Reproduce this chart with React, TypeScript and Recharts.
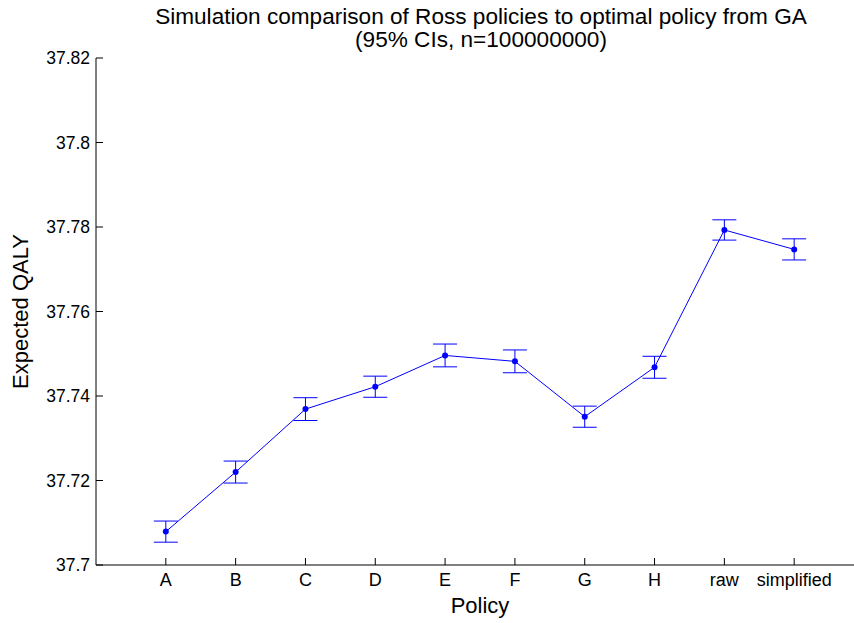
import React from 'react';
import { LineChart, Line, XAxis, YAxis, ErrorBar } from 'recharts';

const policies = ['A', 'B', 'C', 'D', 'E', 'F', 'G', 'H', 'raw', 'simplified'];
const positions = [1, 2, 3, 4, 5, 6, 7, 8, 9, 10];
const expectedQaly = [37.7079, 37.722, 37.7369, 37.7422, 37.7496, 37.7482, 37.7351, 37.7468, 37.7793, 37.7747];
const ciHalfWidth = [0.0025, 0.0026, 0.0027, 0.0025, 0.0027, 0.0027, 0.0025, 0.0026, 0.0024, 0.0025];
const yTicks = [37.7, 37.72, 37.74, 37.76, 37.78, 37.8, 37.82];
const yTickLabels = ['37.7', '37.72', '37.74', '37.76', '37.78', '37.8', '37.82'];
const titleLines = ['Simulation comparison of Ross policies to optimal policy from GA', '(95% CIs, n=100000000)'];
const xLabel = 'Policy';
const yLabel = 'Expected QALY';

const data = positions.map((x, i) => ({ x, y: expectedQaly[i], err: ciHalfWidth[i] }));

const FONT = '"Liberation Sans", Arial, Helvetica, sans-serif';
const BLUE = '#0000ff';
const TICK = 7;

const BottomTick = (props: any) => {
  const { x, y, payload } = props;
  const idx = positions.indexOf(payload.value);
  return (
    <g>
      <line x1={x} x2={x} y1={y} y2={y - TICK} stroke="#000" strokeWidth={1} />
      <text x={x} y={y + 21} textAnchor="middle" fontSize={18} fontFamily={FONT} fill="#000">
        {idx >= 0 ? policies[idx] : ''}
      </text>
    </g>
  );
};

const TopTick = (props: any) => {
  const { x, y } = props;
  return <line x1={x} x2={x} y1={y} y2={y + TICK} stroke="#000" strokeWidth={1} />;
};

const LeftTick = (props: any) => {
  const { x, y, payload } = props;
  const idx = yTicks.findIndex((t) => Math.abs(t - payload.value) < 1e-9);
  return (
    <g>
      <line x1={x} x2={x + TICK} y1={y} y2={y} stroke="#000" strokeWidth={1} />
      <text x={x - 6} y={y + 6} textAnchor="end" fontSize={17.5} fontFamily={FONT} fill="#000">
        {idx >= 0 ? yTickLabels[idx] : ''}
      </text>
    </g>
  );
};

const RightTick = (props: any) => {
  const { x, y } = props;
  return <line x1={x} x2={x - TICK} y1={y} y2={y} stroke="#000" strokeWidth={1} />;
};

export default function App() {
  return (
    <div style={{ position: 'absolute', left: 0, top: 0, width: 854, height: 623, overflow: 'hidden', background: '#fff' }}>
      <LineChart
        width={880}
        height={623}
        data={data}
        margin={{ top: 58, right: 16, bottom: 0, left: 0 }}
      >
        <XAxis
          xAxisId="bottom"
          dataKey="x"
          type="number"
          domain={[0, 11]}
          ticks={positions}
          allowDataOverflow
          height={58}
          tickLine={false}
          tickSize={0}
          tickMargin={0}
          tick={<BottomTick />}
          axisLine={{ stroke: '#000', strokeWidth: 1 }}
          interval={0}
        />
        <XAxis
          xAxisId="top"
          orientation="top"
          dataKey="x"
          type="number"
          domain={[0, 11]}
          ticks={positions}
          allowDataOverflow
          height={0}
          tickLine={false}
          tickSize={0}
          tickMargin={0}
          tick={<TopTick />}
          axisLine={{ stroke: '#000', strokeWidth: 1 }}
          interval={0}
        />
        <YAxis
          yAxisId="left"
          type="number"
          domain={[37.7, 37.82]}
          ticks={yTicks}
          allowDataOverflow
          width={96}
          tickLine={false}
          tickSize={0}
          tickMargin={0}
          tick={<LeftTick />}
          axisLine={{ stroke: '#000', strokeWidth: 1 }}
          interval={0}
        />
        <YAxis
          yAxisId="right"
          orientation="right"
          type="number"
          domain={[37.7, 37.82]}
          ticks={yTicks}
          allowDataOverflow
          width={0}
          tickLine={false}
          tickSize={0}
          tickMargin={0}
          tick={<RightTick />}
          axisLine={{ stroke: '#000', strokeWidth: 1 }}
          interval={0}
        />
        <Line
          xAxisId="bottom"
          yAxisId="left"
          dataKey="y"
          type="linear"
          stroke={BLUE}
          strokeWidth={1}
          dot={{ r: 3, fill: BLUE, stroke: BLUE, strokeWidth: 0 }}
          activeDot={false}
          isAnimationActive={false}
        >
          <ErrorBar dataKey="err" direction="y" width={12} stroke={BLUE} strokeWidth={1} isAnimationActive={false} />
        </Line>
      </LineChart>
      <svg width={854} height={623} style={{ position: 'absolute', left: 0, top: 0, pointerEvents: 'none' }}>
        <text x={481} y={24} textAnchor="middle" fontSize={22.6} fontFamily={FONT} fill="#000">{titleLines[0]}</text>
        <text x={481} y={47} textAnchor="middle" fontSize={22.6} fontFamily={FONT} fill="#000">{titleLines[1]}</text>
        <text x={480} y={613} textAnchor="middle" fontSize={22} fontFamily={FONT} fill="#000">{xLabel}</text>
        <text x={28} y={311.5} textAnchor="middle" fontSize={22} fontFamily={FONT} fill="#000" transform="rotate(-90 28 311.5)">{yLabel}</text>
      </svg>
    </div>
  );
}
